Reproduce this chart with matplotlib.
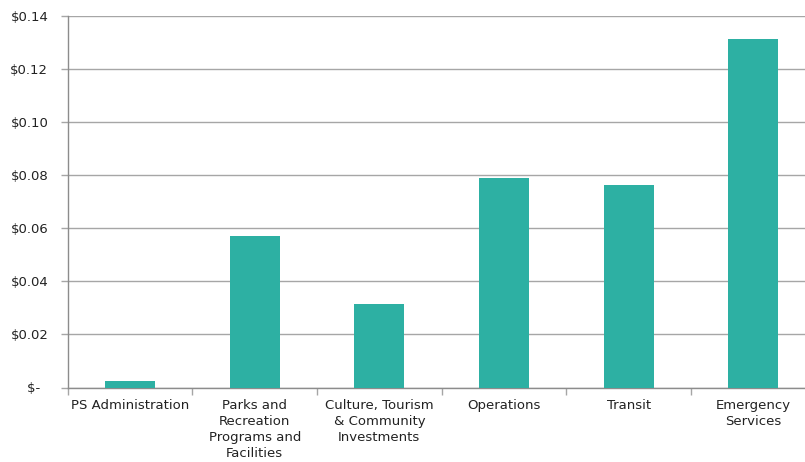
import numpy as np
import matplotlib.pyplot as plt
import matplotlib.ticker as mtick

categories = [
    "PS Administration",
    "Parks and\nRecreation\nPrograms and\nFacilities",
    "Culture, Tourism\n& Community\nInvestments",
    "Operations",
    "Transit",
    "Emergency\nServices",
]
values = [0.0026, 0.0572, 0.0316, 0.0791, 0.0764, 0.1313]

BAR_COLOR = "#2db0a3"
GRID_COLOR = "#a6a6a6"
TEXT_COLOR = "#222222"

fig = plt.figure(figsize=(8.05, 4.62), dpi=100)
ax = fig.add_axes([67.7 / 805, 74.5 / 462, 748 / 805, 371.5 / 462])

x = np.arange(len(categories))
ax.bar(x, values, width=0.4, color=BAR_COLOR, zorder=3)

ax.set_xlim(-0.5, len(categories) - 0.5)
ax.set_ylim(0, 0.14)
ax.yaxis.set_major_locator(mtick.MultipleLocator(0.02))


def money(v, pos):
    # accounting style: zero shown as a dash
    if abs(v) < 1e-9:
        return "$-  "
    return f"${v:.2f}"


ax.yaxis.set_major_formatter(mtick.FuncFormatter(money))
ax.grid(axis="y", color=GRID_COLOR, linewidth=1, zorder=0)

# category labels centred, ticks on the boundaries
ax.set_xticks(x)
ax.set_xticklabels(categories, fontsize=9.5, color=TEXT_COLOR, linespacing=1.32, va="top")
ax.tick_params(axis="x", which="major", length=0, pad=8)
ax.set_xticks(np.arange(len(categories) + 1) - 0.5, minor=True)
ax.tick_params(axis="x", which="minor", length=5, color=GRID_COLOR, width=1)

ax.tick_params(axis="y", length=5, color=GRID_COLOR, width=1, labelsize=9.5,
               labelcolor=TEXT_COLOR, pad=9)

for side in ("top", "right"):
    ax.spines[side].set_visible(False)
for side in ("left", "bottom"):
    ax.spines[side].set_color("#8c8c8c")
    ax.spines[side].set_linewidth(1)

fig.savefig("out.png", dpi=100)
